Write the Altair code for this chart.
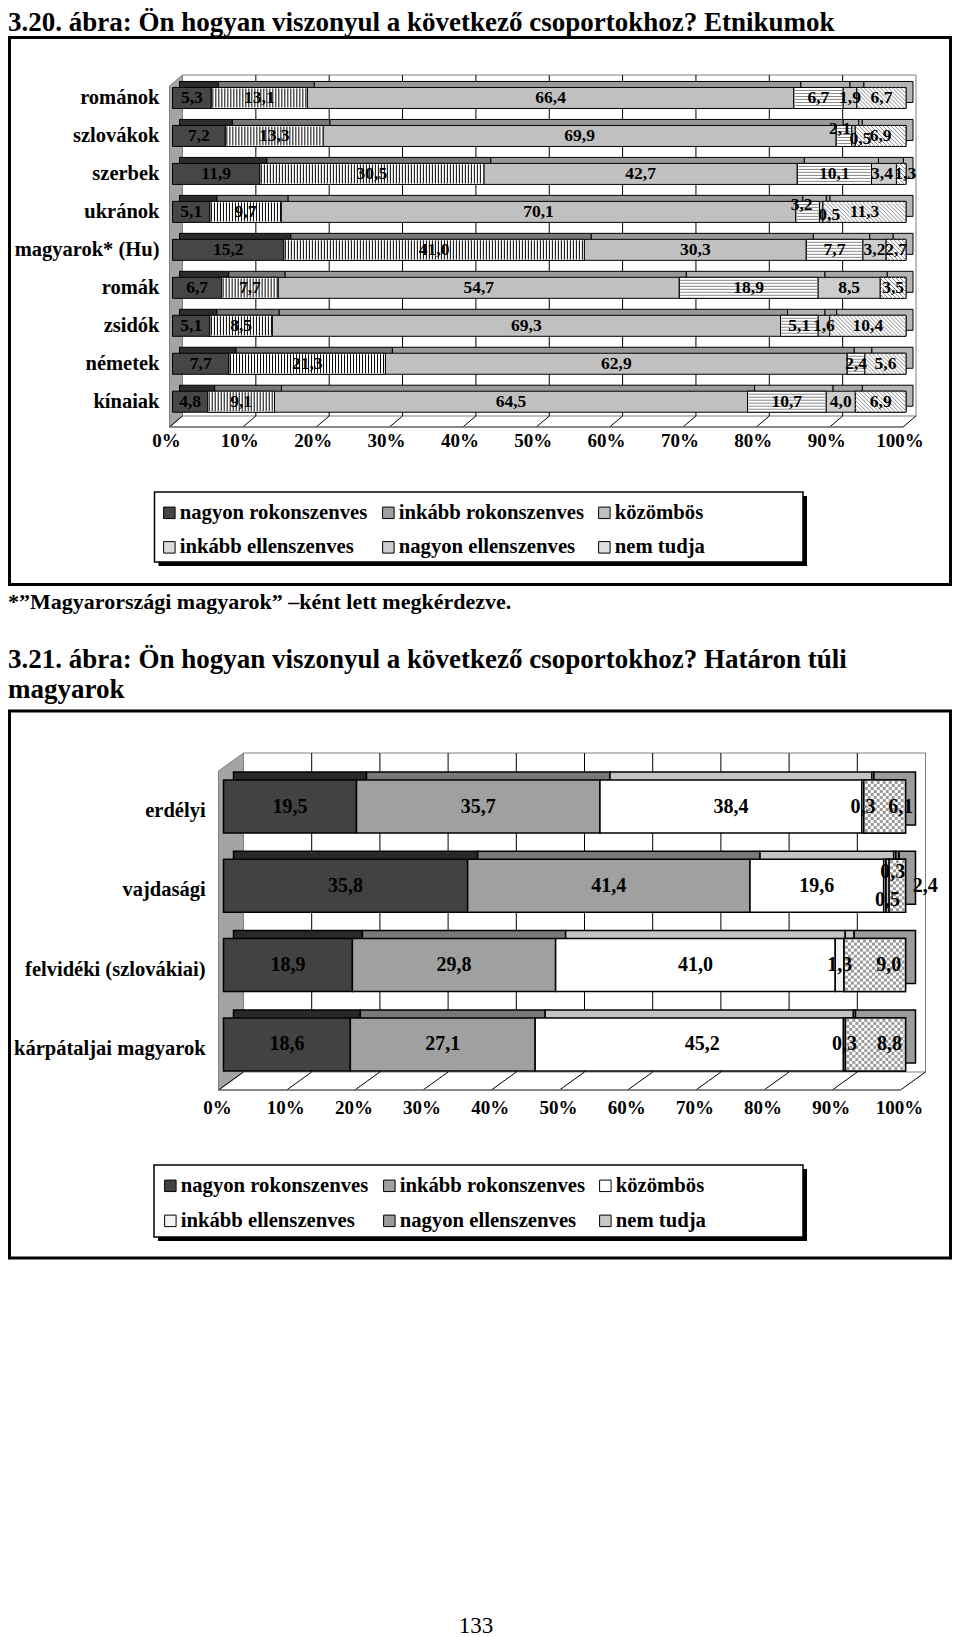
import altair as alt
import pandas as pd

FONT = "Liberation Serif"

# ---------------- texts ----------------
TITLE_1 = "3.20. ábra: Ön hogyan viszonyul a következő csoportokhoz? Etnikumok"
FOOTNOTE = "*”Magyarországi magyarok” –ként lett megkérdezve."
TITLE_2A = "3.21. ábra: Ön hogyan viszonyul a következő csoportokhoz? Határon túli"
TITLE_2B = "magyarok"
PAGE_NO = "133"

categories = ["nagyon rokonszenves", "inkább rokonszenves", "közömbös",
              "inkább ellenszenves", "nagyon ellenszenves", "nem tudja"]

# ---------------- chart 1 data ----------------
groups_1 = ["románok", "szlovákok", "szerbek", "ukránok", "magyarok* (Hu)",
            "romák", "zsidók", "németek", "kínaiak"]
very_pos_1 = [5.3, 7.2, 11.9, 5.1, 15.2, 6.7, 5.1, 7.7, 4.8]
rather_pos_1 = [13.1, 13.3, 30.5, 9.7, 41.0, 7.7, 8.5, 21.3, 9.1]
neutral_1 = [66.4, 69.9, 42.7, 70.1, 30.3, 54.7, 69.3, 62.9, 64.5]
rather_neg_1 = [6.7, 2.1, 10.1, 3.2, 7.7, 18.9, 5.1, 2.4, 10.7]
very_neg_1 = [1.9, 0.5, 3.4, 0.5, 3.2, 8.5, 1.6, 0.0, 4.0]
dont_know_1 = [6.7, 6.9, 1.3, 11.3, 2.7, 3.5, 10.4, 5.6, 6.9]

# ---------------- chart 2 data ----------------
groups_2 = ["erdélyi", "vajdasági", "felvidéki (szlovákiai)", "kárpátaljai magyarok"]
very_pos_2 = [19.5, 35.8, 18.9, 18.6]
rather_pos_2 = [35.7, 41.4, 29.8, 27.1]
neutral_2 = [38.4, 19.6, 41.0, 45.2]
rather_neg_2 = [0.3, 0.3, 1.3, 0.3]
very_neg_2 = [0.0, 0.5, 0.0, 0.0]
dont_know_2 = [6.1, 2.4, 9.0, 8.8]

tick_values = [0, 10, 20, 30, 40, 50, 60, 70, 80, 90, 100]
tick_labels = ["0%", "10%", "20%", "30%", "40%", "50%", "60%", "70%", "80%", "90%", "100%"]

# ---------------- styles ----------------
colors_1 = ["#464646", "#9e9e9e", "#c0c0c0", "#dadada", "#cdcdcd", "#dedede"]
tops_1 = ["#2c2c2c", "#777777", "#999999", "#b2b2b2", "#a6a6a6", "#b6b6b6"]
colors_2 = ["#424242", "#a0a0a0", "#ffffff", "#f2f2f2", "#9a9a9a", "#c8c8c8"]
tops_2 = ["#282828", "#787878", "#c4c4c4", "#c4c4c4", "#777777", "#9c9c9c"]

G1 = dict(x0=164.5, x1=898.0, y0=71.0, y1=412.7, hh=10.5, dx=7, dy=6,
          wall_dx=10, wall_top=67, wall_bot=408, floor_front=419, front_dx=-3,
          lab_x=151.5, lab_dy=0, tick_y=433, bar_font=17.5, cat_font=20.5, sw=1.0,
          legend_x=151, legend_y=494, row_pad=13)
G2 = dict(x0=215.5, x1=897.5, y0=758.85, y1=1076.05, hh=26.5, dx=10, dy=8,
          wall_dx=20, wall_top=745, wall_bot=1064, floor_front=1082, front_dx=-5,
          lab_x=197.6, lab_dy=4.5, tick_y=1100, bar_font=20, cat_font=20.5, sw=1.5,
          legend_x=152, legend_y=1167, row_pad=13.5)

ADJ1 = {("szlovákok", "inkább ellenszenves"): (-4, -7),
        ("szlovákok", "nagyon ellenszenves"): (7, 3),
        ("szerbek", "nagyon ellenszenves"): (-2, 0),
        ("szerbek", "nem tudja"): (4, 0),
        ("ukránok", "inkább ellenszenves"): (-6, -7),
        ("ukránok", "nagyon ellenszenves"): (8, 3)}
ADJ2 = {("erdélyi", "nem tudja"): (16, 0),
        ("vajdasági", "inkább ellenszenves"): (8, -14),
        ("vajdasági", "nagyon ellenszenves"): (0, 14),
        ("vajdasági", "nem tudja"): (28, 0),
        ("felvidéki (szlovákiai)", "nem tudja"): (14, 0),
        ("kárpátaljai magyarok", "közömbös"): (13, 0),
        ("kárpátaljai magyarok", "nem tudja"): (14, 0)}


def stacked(rows, series):
    recs = []
    for i, r in enumerate(rows):
        vals = [s[i] for s in series]
        tot = sum(vals)
        start = 0.0
        for c, v in zip(categories, vals):
            s = start / tot * 100
            e = (start + v) / tot * 100
            recs.append(dict(row=r, idx=i, cat=c, v=v, s=s, e=e, mid=(s + e) / 2,
                             label=f"{v:.1f}".replace(".", ",")))
            start += v
    df = pd.DataFrame(recs)
    return df[df.v > 0].reset_index(drop=True)


def panel(rows, series, g, colors, tops, patterns, adj):
    n = len(rows)
    pxu = (g["x1"] - g["x0"]) / 100.0
    pyu = (g["y1"] - g["y0"]) / n
    X = alt.Scale(domain=[0, 100], range=[g["x0"], g["x1"]], nice=False, zero=False)
    Y = alt.Scale(domain=[0, n], range=[g["y0"], g["y1"]], nice=False, zero=False)

    def yu(px):
        return (px - g["y0"]) / pyu

    hu = g["hh"] / pyu
    df = stacked(rows, series)
    df["yc"] = df.idx + 0.5
    df["yt"] = df.yc - hu
    df["yb"] = df.yc + hu
    top_map = dict(zip(categories, tops))
    df["topcol"] = [top_map[c] for c in df.cat]

    def XQ(f):
        return alt.X(f, type="quantitative", scale=X, axis=None)

    def YQ(f):
        return alt.Y(f, type="quantitative", scale=Y, axis=None)

    layers = []
    box = pd.DataFrame({"a": [0.0], "b": [100.0]})
    tk = pd.DataFrame({"t": tick_values, "lab": tick_labels})

    # back wall
    layers.append(alt.Chart(box).mark_rect(
        fill="white", stroke="#808080", strokeWidth=1,
        xOffset=g["wall_dx"], x2Offset=g["wall_dx"]).encode(
        x=XQ("a"), x2="b:Q", y=alt.value(g["wall_top"]), y2=alt.value(g["wall_bot"])))
    layers.append(alt.Chart(tk).mark_rule(
        color="black", strokeWidth=1, xOffset=g["wall_dx"]).encode(
        x=XQ("t"), y=alt.value(g["wall_top"]), y2=alt.value(g["wall_bot"])
    ).transform_filter("datum.t > 0 && datum.t < 100"))
    # left wall (parallelogram)
    dyw = g["floor_front"] - g["wall_bot"]
    lw = pd.DataFrame({"x": [g["front_dx"] / pxu, g["wall_dx"] / pxu],
                       "yt": [yu(g["wall_top"] + dyw), yu(g["wall_top"])],
                       "yb": [yu(g["floor_front"]), yu(g["wall_bot"])]})
    layers.append(alt.Chart(lw).mark_area(
        fill="#a4a4a4", stroke="#808080", strokeWidth=1).encode(
        x=XQ("x"), y=YQ("yt"), y2="yb:Q"))
    # floor
    layers.append(alt.Chart(tk).mark_rule(
        color="black", strokeWidth=1, xOffset=g["front_dx"], x2Offset=g["wall_dx"]).encode(
        x=XQ("t"), x2="t:Q", y=alt.value(g["floor_front"]), y2=alt.value(g["wall_bot"])))
    layers.append(alt.Chart(box).mark_rule(
        color="#606060", strokeWidth=1.5, xOffset=g["front_dx"], x2Offset=g["front_dx"]).encode(
        x=XQ("a"), x2="b:Q", y=alt.value(g["floor_front"])))

    # 3D top/side faces (identity fill, no legend)
    layers.append(alt.Chart(df).mark_rect(
        stroke="black", strokeWidth=g["sw"], xOffset=g["dx"], x2Offset=g["dx"],
        yOffset=-g["dy"], y2Offset=-g["dy"]).encode(
        x=XQ("s"), x2="e:Q", y=YQ("yt"), y2="yb:Q",
        fill=alt.Fill("topcol:N", scale=None)))
    # front faces
    layers.append(alt.Chart(df).mark_rect(stroke="black", strokeWidth=g["sw"]).encode(
        x=XQ("s"), x2="e:Q", y=YQ("yt"), y2="yb:Q",
        color=alt.Color("cat:N", scale=alt.Scale(domain=categories, range=colors),
                        legend=alt.Legend(
                            orient="none", legendX=g["legend_x"], legendY=g["legend_y"],
                            columns=3, direction="horizontal", title=None, zindex=5,
                            symbolType="square", symbolSize=132,
                            symbolStrokeColor="black", symbolStrokeWidth=1,
                            labelFont=FONT, labelFontSize=20.7, labelFontWeight="bold",
                            labelColor="black", labelLimit=500, labelOffset=0,
                            columnPadding=10, rowPadding=g["row_pad"], padding=0))))

    # patterns
    pat_cats = list(patterns.keys())
    if pat_cats:
        layers.append(alt.Chart(df).mark_rect(
            fill="white", stroke="black", strokeWidth=g["sw"]).encode(
            x=XQ("s"), x2="e:Q", y=YQ("yt"), y2="yb:Q"
        ).transform_filter(alt.FieldOneOfPredicate(field="cat", oneOf=pat_cats)))
    inset = 1.0 / pyu
    for cat, (kind, step_px, col) in patterns.items():
        sub = df[df.cat == cat]
        recs = []
        cells = []
        if kind == "v":
            step = step_px / pxu
            for _, r in sub.iterrows():
                p = r.s + step / 2
                while p < r.e - 0.08:
                    recs.append(dict(xa=p, xb=p, ya=r.yt + inset, yb=r.yb - inset))
                    p += step
        elif kind == "h":
            k = step_px
            offs = []
            o = -g["hh"] + k
            while o < g["hh"] - 0.5:
                offs.append(o)
                o += k
            for _, r in sub.iterrows():
                for o in offs:
                    recs.append(dict(xa=r.s + 0.1, xb=r.e - 0.1,
                                     ya=r.yc + o / pyu, yb=r.yc + o / pyu))
        elif kind == "d":
            H = 2 * g["hh"] / pxu
            step = step_px / pxu
            for _, r in sub.iterrows():
                x0 = r.s - H
                while x0 < r.e:
                    t_lo = max(0.0, (r.s - x0) / H)
                    t_hi = min(1.0, (r.e - x0) / H)
                    if t_hi - t_lo > 0.03:
                        recs.append(dict(xa=x0 + t_lo * H, xb=x0 + t_hi * H,
                                         ya=r.yt + t_lo * (r.yb - r.yt),
                                         yb=r.yt + t_hi * (r.yb - r.yt)))
                    x0 += step
        elif kind == "c":
            cw = step_px / pxu
            ch = step_px / pyu
            for _, r in sub.iterrows():
                ix = 0
                xa = r.s + 0.12
                while xa < r.e - 0.12:
                    xb = min(xa + cw, r.e - 0.12)
                    iy = 0
                    ya = r.yt + inset
                    while ya < r.yb - inset:
                        yb = min(ya + ch, r.yb - inset)
                        if (ix + iy) % 2 == 0:
                            cells.append(dict(xa=xa, xb=xb, ya=ya, yb=yb))
                        ya += ch
                        iy += 1
                    xa += cw
                    ix += 1
        if recs:
            pdf = pd.DataFrame(recs)
            layers.append(alt.Chart(pdf).mark_rule(color=col, strokeWidth=1).encode(
                x=XQ("xa"), x2="xb:Q", y=YQ("ya"), y2="yb:Q"))
        if cells:
            cdf = pd.DataFrame(cells)
            layers.append(alt.Chart(cdf).mark_rect(color=col).encode(
                x=XQ("xa"), x2="xb:Q", y=YQ("ya"), y2="yb:Q"))

    # value labels
    df["adx"] = [adj.get((r, c), (0, 0))[0] for r, c in zip(df.row, df.cat)]
    df["ady"] = [adj.get((r, c), (0, 0))[1] for r, c in zip(df.row, df.cat)]
    for (adx, ady), sub in df.groupby(["adx", "ady"]):
        layers.append(alt.Chart(sub).mark_text(
            font=FONT, fontSize=g["bar_font"], fontWeight="bold", color="black",
            dx=float(adx), dy=float(ady)).encode(
            x=XQ("mid"), y=YQ("yc"), text="label:N"))

    # category labels
    cl = pd.DataFrame({"row": rows, "yc": [i + 0.5 for i in range(n)]})
    layers.append(alt.Chart(cl).mark_text(
        font=FONT, fontSize=g["cat_font"], fontWeight="bold", color="black",
        align="right", dy=g["lab_dy"]).encode(
        x=alt.value(g["lab_x"]), y=YQ("yc"), text="row:N"))

    # x tick labels
    layers.append(alt.Chart(tk).mark_text(
        font=FONT, fontSize=19, fontWeight="bold", color="black", dx=-6).encode(
        x=XQ("t"), y=alt.value(g["tick_y"]), text="lab:N"))

    return alt.layer(*layers)


c1 = panel(groups_1, [very_pos_1, rather_pos_1, neutral_1, rather_neg_1, very_neg_1, dont_know_1],
           G1, colors_1, tops_1,
           {"inkább rokonszenves": ("v", 3.0, "black"),
            "inkább ellenszenves": ("h", 3.0, "#8a8a8a"),
            "nem tudja": ("d", 4.0, "#8a8a8a")},
           ADJ1)
c2 = panel(groups_2, [very_pos_2, rather_pos_2, neutral_2, rather_neg_2, very_neg_2, dont_know_2],
           G2, colors_2, tops_2,
           {"nagyon ellenszenves": ("v", 2.0, "black"),
            "nem tudja": ("c", 3.0, "#9a9a9a")},
           ADJ2)

# ---------------- page furniture ----------------
dummy = pd.DataFrame({"k": [0]})


def frame(x, x2, y, y2, sw):
    return alt.Chart(dummy).mark_rect(fillOpacity=0, stroke="black", strokeWidth=sw).encode(
        x=alt.value(x), x2=alt.value(x2), y=alt.value(y), y2=alt.value(y2))


def legend_box(x, x2, y, y2):
    # shadow strips on the right and bottom, then an unfilled box
    right = alt.Chart(dummy).mark_rect(color="black").encode(
        x=alt.value(x2), x2=alt.value(x2 + 4), y=alt.value(y + 4), y2=alt.value(y2 + 4))
    bottom = alt.Chart(dummy).mark_rect(color="black").encode(
        x=alt.value(x + 4), x2=alt.value(x2 + 4), y=alt.value(y2), y2=alt.value(y2 + 4))
    box = alt.Chart(dummy).mark_rect(fillOpacity=0, stroke="black", strokeWidth=1.5).encode(
        x=alt.value(x), x2=alt.value(x2), y=alt.value(y), y2=alt.value(y2))
    return [right, bottom, box]


def text(t, x, y, size, weight="bold", align="left"):
    return alt.Chart(dummy).mark_text(
        font=FONT, fontSize=size, fontWeight=weight, color="black",
        align=align, baseline="alphabetic").encode(
        x=alt.value(x), y=alt.value(y), text=alt.value(t))


c0 = alt.layer(
    frame(1.5, 942.5, 29.5, 576.5, 3),
    frame(1.5, 942.5, 703, 1250, 3),
    *legend_box(146.5, 795, 484, 554),
    *legend_box(146, 795, 1157, 1229),
    text(TITLE_1, 0, 22.5, 27),
    text(FOOTNOTE, 0, 601, 22),
    text(TITLE_2A, 0, 660, 27),
    text(TITLE_2B, 0, 690, 27),
    text(PAGE_NO, 468, 1625, 23, weight="normal", align="center"),
)

chart = alt.layer(c0, c1, c2).resolve_scale(
    x="independent", y="independent", color="independent"
).properties(
    width=944, height=1629, padding=0, autosize=alt.AutoSizeParams(type="none"),
    background="white"
).configure_view(stroke=None)

chart.save("out.html", embed_options={"renderer": "svg", "actions": False})
